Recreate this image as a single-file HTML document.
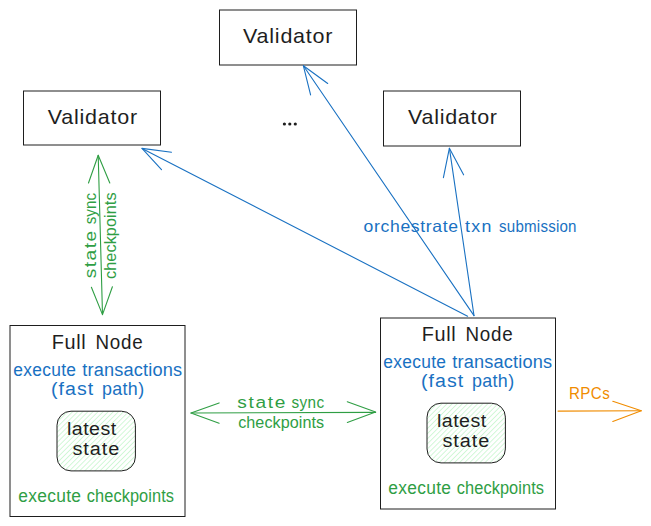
<!DOCTYPE html>
<html><head><meta charset="utf-8">
<style>
html,body{margin:0;padding:0;background:#fff;width:651px;height:526px;overflow:hidden}
svg{display:block;position:absolute;left:0;top:0}
text{font-family:"Liberation Sans",sans-serif}
</style></head><body>
<svg width="651" height="526" viewBox="0 0 651 526">
<defs>
<pattern id="hatch" patternUnits="userSpaceOnUse" width="3.6" height="10" patternTransform="rotate(45)">
<line x1="0" y1="-1" x2="0" y2="11" stroke="#b2f2bb" stroke-width="1.15"/>
</pattern>
</defs>
<rect width="651" height="526" fill="#fff"/>

<g fill="none" stroke="#1e1e1e" stroke-width="1">
<rect x="23.5" y="91" width="137" height="54"/>
<rect x="219.5" y="10" width="137" height="55"/>
<rect x="383.5" y="91" width="137" height="55"/>
<rect x="10" y="325.5" width="175" height="191"/>
<rect x="380.5" y="318" width="175" height="191"/>
</g>
<rect x="57" y="411.2" width="78.4" height="59.7" rx="14" fill="url(#hatch)" stroke="#1e1e1e" stroke-width="1"/>
<rect x="427" y="403.2" width="78.4" height="59.7" rx="14" fill="url(#hatch)" stroke="#1e1e1e" stroke-width="1"/>
<g fill="#1e1e1e">
<circle cx="284.4" cy="124" r="1.6"/>
<circle cx="289.8" cy="124" r="1.6"/>
<circle cx="295.3" cy="124" r="1.6"/>
</g>
<g fill="none" stroke-linecap="round" stroke-linejoin="round" stroke-width="1.1">
<g stroke="#1971c2">
<path d="M467.6 316.2 L142 148.4"/>
<path d="M171.5 152.3 L142 148.4 L161.5 169.6"/>
<path d="M474 315.6 L303.4 65.8"/>
<path d="M310.6 94.9 L303.4 65.8 L327.7 83.5"/>
<path d="M474 315.6 L449.4 148.2"/>
<path d="M443.4 177.6 L449.4 148.2 L463.6 174.8"/>
</g>
<g stroke="#2f9e44">
<path d="M98.2 155.3 L102.5 314.6"/>
<path d="M88.5 183 L98.2 155.3 L109.8 183"/>
<path d="M91.4 287.3 L102.5 314.6 L112.4 286.8"/>
<path d="M191 413 L375.6 412.4"/>
<path d="M219.1 402.9 L191 413 L219.1 423.2"/>
<path d="M347.3 401.8 L375.6 412.1 L347.3 422.4"/>
</g>
<g stroke="#f08c00">
<path d="M558 411.1 L641.3 410.8"/>
<path d="M612.8 401.3 L641.3 410.8 L612.8 421.5"/>
</g>
</g>

<text transform="translate(47.80,124.00) scale(1.075,1)" fill="#1e1e1e" stroke="#1e1e1e" stroke-width="0.0" font-size="20" textLength="83.06" lengthAdjust="spacing">Validator</text>
<text transform="translate(243.10,43.30) scale(1.075,1)" fill="#1e1e1e" stroke="#1e1e1e" stroke-width="0.0" font-size="20" textLength="83.06" lengthAdjust="spacing">Validator</text>
<text transform="translate(408.00,124.40) scale(1.075,1)" fill="#1e1e1e" stroke="#1e1e1e" stroke-width="0.0" font-size="20" textLength="82.83" lengthAdjust="spacing">Validator</text>
<text transform="translate(51.70,348.80) scale(0.993,1)" fill="#1e1e1e" stroke="#1e1e1e" stroke-width="0.0" font-size="20" textLength="34.25" lengthAdjust="spacing">Full</text>
<text transform="translate(95.60,348.80) scale(0.941,1)" fill="#1e1e1e" stroke="#1e1e1e" stroke-width="0.0" font-size="20" textLength="49.94" lengthAdjust="spacing">Node</text>
<text transform="translate(67.00,434.80) scale(1.033,1)" fill="#1e1e1e" stroke="#1e1e1e" stroke-width="0.0" font-size="19" textLength="47.64" lengthAdjust="spacing">latest</text>
<text transform="translate(72.50,455.10) scale(1.045,1)" fill="#1e1e1e" stroke="#1e1e1e" stroke-width="0.0" font-size="19" textLength="44.69" lengthAdjust="spacing">state</text>
<text transform="translate(13.30,376.30) scale(0.966,1)" fill="#1971c2" stroke="#1971c2" stroke-width="0.0" font-size="18" textLength="64.91" lengthAdjust="spacing">execute</text>
<text transform="translate(82.20,376.30) scale(1.010,1)" fill="#1971c2" stroke="#1971c2" stroke-width="0.0" font-size="18" textLength="99.01" lengthAdjust="spacing">transactions</text>
<text transform="translate(50.90,395.20) scale(1.087,1)" fill="#1971c2" stroke="#1971c2" stroke-width="0.0" font-size="18" textLength="38.92" lengthAdjust="spacing">(fast</text>
<text transform="translate(102.00,395.20) scale(0.992,1)" fill="#1971c2" stroke="#1971c2" stroke-width="0.0" font-size="18" textLength="42.44" lengthAdjust="spacing">path)</text>
<text transform="translate(18.30,502.30) scale(0.966,1)" fill="#2f9e44" stroke="#2f9e44" stroke-width="0.0" font-size="18" textLength="64.91" lengthAdjust="spacing">execute</text>
<text transform="translate(86.80,502.30) scale(0.909,1)" fill="#2f9e44" stroke="#2f9e44" stroke-width="0.0" font-size="18" textLength="95.94" lengthAdjust="spacing">checkpoints</text>
<text transform="translate(421.70,340.80) scale(0.993,1)" fill="#1e1e1e" stroke="#1e1e1e" stroke-width="0.0" font-size="20" textLength="34.25" lengthAdjust="spacing">Full</text>
<text transform="translate(465.60,340.80) scale(0.941,1)" fill="#1e1e1e" stroke="#1e1e1e" stroke-width="0.0" font-size="20" textLength="49.94" lengthAdjust="spacing">Node</text>
<text transform="translate(437.00,426.80) scale(1.033,1)" fill="#1e1e1e" stroke="#1e1e1e" stroke-width="0.0" font-size="19" textLength="47.64" lengthAdjust="spacing">latest</text>
<text transform="translate(442.50,447.10) scale(1.045,1)" fill="#1e1e1e" stroke="#1e1e1e" stroke-width="0.0" font-size="19" textLength="44.69" lengthAdjust="spacing">state</text>
<text transform="translate(383.30,368.30) scale(0.966,1)" fill="#1971c2" stroke="#1971c2" stroke-width="0.0" font-size="18" textLength="64.91" lengthAdjust="spacing">execute</text>
<text transform="translate(452.20,368.30) scale(1.010,1)" fill="#1971c2" stroke="#1971c2" stroke-width="0.0" font-size="18" textLength="99.01" lengthAdjust="spacing">transactions</text>
<text transform="translate(420.90,387.20) scale(1.087,1)" fill="#1971c2" stroke="#1971c2" stroke-width="0.0" font-size="18" textLength="38.92" lengthAdjust="spacing">(fast</text>
<text transform="translate(472.00,387.20) scale(0.992,1)" fill="#1971c2" stroke="#1971c2" stroke-width="0.0" font-size="18" textLength="42.44" lengthAdjust="spacing">path)</text>
<text transform="translate(388.30,494.30) scale(0.966,1)" fill="#2f9e44" stroke="#2f9e44" stroke-width="0.0" font-size="18" textLength="64.91" lengthAdjust="spacing">execute</text>
<text transform="translate(456.80,494.30) scale(0.909,1)" fill="#2f9e44" stroke="#2f9e44" stroke-width="0.0" font-size="18" textLength="95.94" lengthAdjust="spacing">checkpoints</text>
<text transform="translate(363.60,232.40) scale(1.066,1)" fill="#1971c2" stroke="#1971c2" stroke-width="0.0" font-size="16.5" textLength="88.62" lengthAdjust="spacing">orchestrate</text>
<text transform="translate(465.00,232.40) scale(1.079,1)" fill="#1971c2" stroke="#1971c2" stroke-width="0.0" font-size="16.5" textLength="24.56" lengthAdjust="spacing">txn</text>
<text transform="translate(499.10,232.40) scale(0.918,1)" fill="#1971c2" stroke="#1971c2" stroke-width="0.0" font-size="16.5" textLength="84.29" lengthAdjust="spacing">submission</text>
<text transform="translate(237.20,408.30) scale(1.125,1)" fill="#2f9e44" stroke="#2f9e44" stroke-width="0.0" font-size="17" textLength="42.92" lengthAdjust="spacing">state</text>
<text transform="translate(291.60,408.30) scale(0.901,1)" fill="#2f9e44" stroke="#2f9e44" stroke-width="0.0" font-size="17" textLength="36.08" lengthAdjust="spacing">sync</text>
<text transform="translate(238.20,428.40) scale(0.950,1)" fill="#2f9e44" stroke="#2f9e44" stroke-width="0.0" font-size="17" textLength="90.41" lengthAdjust="spacing">checkpoints</text>
<text transform="translate(96.00,278.20) rotate(-90) scale(1.125,1)" fill="#2f9e44" stroke="#2f9e44" stroke-width="0.0" font-size="17" textLength="42.03" lengthAdjust="spacing">state</text>
<text transform="translate(96.00,224.30) rotate(-90) scale(0.889,1)" fill="#2f9e44" stroke="#2f9e44" stroke-width="0.0" font-size="17" textLength="35.19" lengthAdjust="spacing">sync</text>
<text transform="translate(116.00,278.90) rotate(-90) scale(0.956,1)" fill="#2f9e44" stroke="#2f9e44" stroke-width="0.0" font-size="17" textLength="90.41" lengthAdjust="spacing">checkpoints</text>
<text transform="translate(569.00,398.60) scale(0.892,1)" fill="#f08c00" stroke="#f08c00" stroke-width="0.0" font-size="17" textLength="45.75" lengthAdjust="spacing">RPCs</text>
</svg>
</body></html>
